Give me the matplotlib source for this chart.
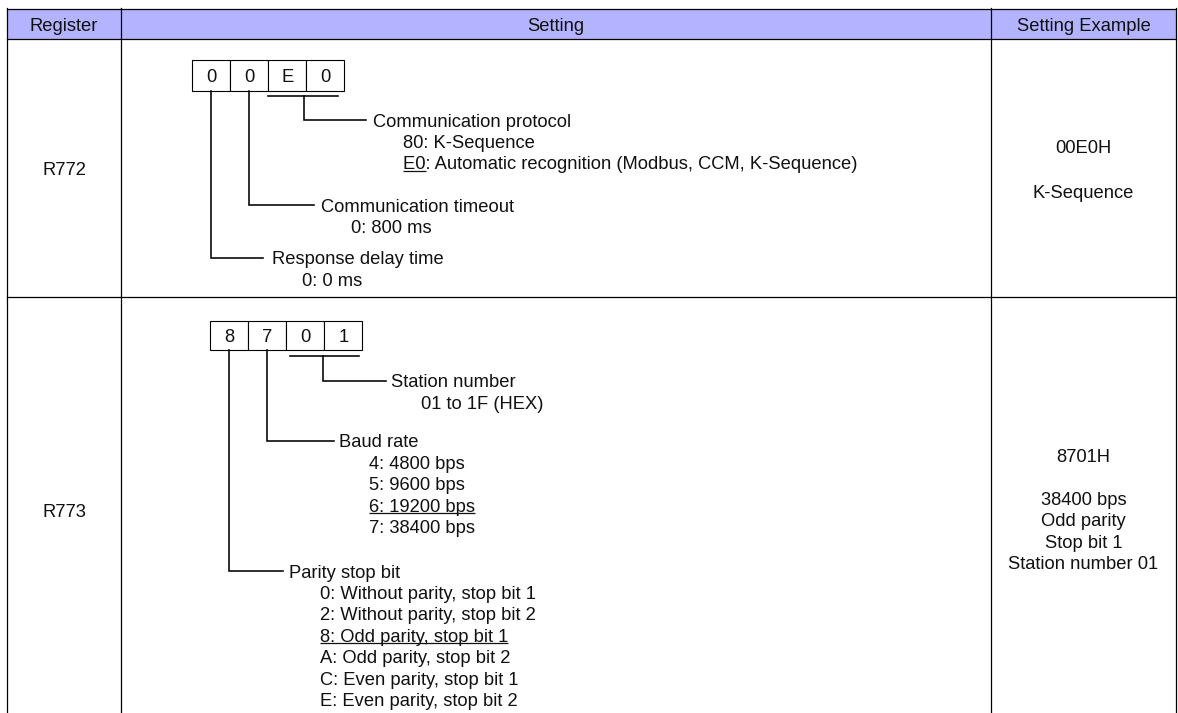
import matplotlib
matplotlib.use("Agg")
import matplotlib.pyplot as plt
from matplotlib.patches import Rectangle

# ---------------- content ----------------
headers = ["Register", "Setting", "Setting Example"]
registers = ["R772", "R773"]

digits_r772 = ["0", "0", "E", "0"]
digits_r773 = ["8", "7", "0", "1"]

proto_title = "Communication protocol"
proto_items = ["80: K-Sequence", "E0: Automatic recognition (Modbus, CCM, K-Sequence)"]
timeout_title = "Communication timeout"
timeout_items = ["0: 800 ms"]
delay_title = "Response delay time"
delay_items = ["0: 0 ms"]

station_title = "Station number"
station_items = ["01 to 1F (HEX)"]
baud_title = "Baud rate"
baud_items = ["4: 4800 bps", "5: 9600 bps", "6: 19200 bps", "7: 38400 bps"]
parity_title = "Parity stop bit"
parity_items = ["0: Without parity, stop bit 1", "2: Without parity, stop bit 2",
                "8: Odd parity, stop bit 1", "A: Odd parity, stop bit 2",
                "C: Even parity, stop bit 1", "E: Even parity, stop bit 2"]

examples_r772 = ["00E0H", "", "K-Sequence"]
examples_r773 = ["8701H", "", "38400 bps", "Odd parity", "Stop bit 1", "Station number 01"]

# ---------------- drawing ----------------
W, H = 1178, 713
fig = plt.figure(figsize=(W / 100, H / 100), dpi=100)
ax = fig.add_axes([0, 0, 1, 1])
ax.set_xlim(0, W)
ax.set_ylim(H, 0)
ax.axis("off")

FONT = "Liberation Sans"
FS = 13.2
PITCH = 21.4
CAP = 6.6  # half cap height in px (baseline offset from visual centre)

renderer = fig.canvas.get_renderer()


def txt(x, y, s, ha="left", underline=None):
    t = ax.text(x, y + CAP, s, ha=ha, va="baseline", fontsize=FS,
                family=FONT, color="#111111")
    if underline is not None:
        part = s if underline is True else underline
        tmp = ax.text(0, 0, part, fontsize=FS, family=FONT)
        wpx = tmp.get_window_extent(renderer).width
        tmp.remove()
        ax.plot([x, x + wpx], [y + 8.2, y + 8.2], color="#111111", lw=0.9,
                solid_capstyle="butt")
    return t


def line(xs, ys, lw=1.15):
    ax.plot(xs, ys, color="black", lw=lw, solid_capstyle="projecting",
            solid_joinstyle="miter")


# table geometry
x_left, x_d1, x_d2, x_right = 7, 121, 991, 1176
y_top, y_head, y_row1 = 9, 39, 297

ax.add_patch(Rectangle((x_left, y_top), x_right - x_left, y_head - y_top,
                       facecolor="#B3B3FF", edgecolor="none", zorder=0))
for yy in (y_top, y_head, y_row1):
    ax.plot([x_left, x_right], [yy, yy], color="black", lw=0.9)
for xx in (x_left, x_d1, x_d2, x_right):
    ax.plot([xx, xx], [y_top - 1, H + 2], color="black", lw=0.9)

txt((x_left + x_d1) / 2, 24, headers[0], ha="center")
txt((x_d1 + x_d2) / 2, 24, headers[1], ha="center")
txt((x_d2 + x_right) / 2, 24, headers[2], ha="center")

txt((x_left + x_d1) / 2, 168, registers[0], ha="center")
txt((x_left + x_d1) / 2, 510, registers[1], ha="center")


def boxes(x0, y0, y1, digits, cw=38):
    for i, d in enumerate(digits):
        ax.add_patch(Rectangle((x0 + i * cw, y0), cw, y1 - y0, facecolor="white",
                               edgecolor="black", lw=0.8))
        txt(x0 + i * cw + cw / 2, (y0 + y1) / 2, d, ha="center")
    return [x0 + i * cw + cw / 2 for i in range(len(digits))]


def callout(xv, ytop, ylev, xend, title, items, tx, ix, underline_idx=None,
            underline_part=None):
    line([xv, xv, xend], [ytop, ylev, ylev])
    txt(tx, ylev, title)
    for k, s in enumerate(items):
        ul = None
        if underline_idx == k:
            ul = underline_part if underline_part else True
        txt(ix, ylev + PITCH * (k + 1), s, underline=ul)


# ---- R772 ----
c = boxes(192.3, 60.3, 91.3, digits_r772)
line([268.3, 337.7], [95.7, 95.7])
callout(304.3, 95.7, 120, 366, proto_title, proto_items, 372.7, 403.3,
        underline_idx=1, underline_part="E0")
callout(c[1], 91.3, 205.3, 314.3, timeout_title, timeout_items, 321, 351)
callout(c[0], 91.3, 257.7, 263.3, delay_title, delay_items, 271.7, 301.7)

# ---- R773 ----
c = boxes(210.3, 320.7, 350.3, digits_r773)
line([290.3, 359], [355.7, 355.7])
callout(322.7, 355.7, 380.7, 386, station_title, station_items, 391, 421)
callout(c[1], 350.3, 440.7, 334, baud_title, baud_items, 339, 369,
        underline_idx=2)
callout(c[0], 350.3, 571, 283.3, parity_title, parity_items, 289.3, 320,
        underline_idx=2)

# ---- Setting examples ----
xc = (x_d2 + x_right) / 2
y0 = 168 - PITCH * (len(examples_r772) - 1) / 2
for k, s in enumerate(examples_r772):
    if s:
        txt(xc, y0 + k * 22.2, s, ha="center")
y0 = 509.2 - PITCH * (len(examples_r773) - 1) / 2
for k, s in enumerate(examples_r773):
    if s:
        txt(xc, y0 + k * PITCH, s, ha="center")

fig.savefig("out.png", dpi=100, facecolor="white")
